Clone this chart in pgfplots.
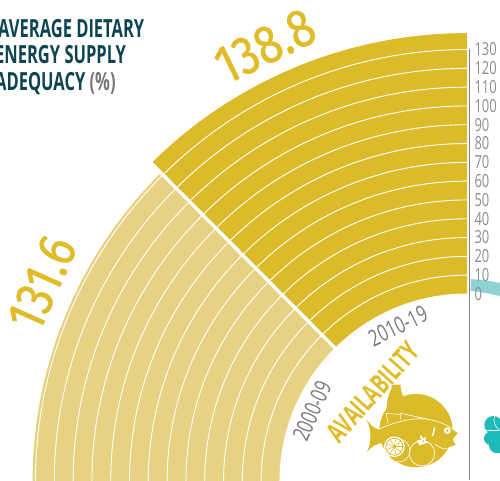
\documentclass[border=0pt]{standalone}
\usepackage{pgfplots}
\pgfplotsset{compat=1.18}
\usepgfplotslibrary{polar}
\usepackage{fontspec}
\setmainfont{Fira Sans}
\newfontfamily\cond[FakeStretch=0.72]{Open Sans}
\newfontfamily\condb[FakeStretch=0.66]{Open Sans Bold}
\newfontfamily\din[FakeStretch=0.85,FakeBold=0.8]{Fira Sans}
\definecolor{gold}{RGB}{219,187,41}
\definecolor{lightgold}{RGB}{230,210,130}
\definecolor{txtgold}{RGB}{223,188,40}
\definecolor{dteal}{RGB}{13,68,82}
\definecolor{paleteal}{RGB}{140,211,210}
\definecolor{teal2}{RGB}{30,186,186}
\definecolor{lab}{RGB}{140,140,142}
\definecolor{per}{RGB}{120,120,122}

\begin{document}
\begin{tikzpicture}[x=1pt,y=1pt]
\useasboundingbox (0,0) rectangle (500,480);
\clip (0,0) rectangle (500,480);
\begin{polaraxis}[
  at={(467pt,-1pt)}, anchor=south east,
  scale only axis,
  width=896pt,
  xmin=90, xmax=180,
  ymin=-99.5, ymax=138.8,
  y coord trafo/.code={\pgfmathparse{#1+99.5}},
  y coord inv trafo/.code={\pgfmathparse{#1-99.5}},
  ytick={0,10,...,130},
  xtick=\empty,
  ymajorgrids,
  y grid style={white, line width=0.9pt},
  major tick length=0pt,
  axis line style={draw=none},
  yticklabel style={font=\cond\fontsize{18}{18}\selectfont, text=lab, anchor=west, xshift=4pt},
  /pgf/number format/assume math mode=true,
  clip=false,
  axis on top,
]
% 2010-19
\addplot[fill=gold, draw=none] coordinates {
  (90,138.8) (92.5,138.8) (95,138.8) (97.5,138.8) (100,138.8) (102.5,138.8) (105,138.8) (107.5,138.8) (110,138.8)
  (112.5,138.8) (115,138.8) (117.5,138.8) (120,138.8) (122.5,138.8) (125,138.8) (127.5,138.8) (130,138.8) (132.5,138.8) (134.8,138.8)
  (134.8,0) (132.5,0) (130,0) (127.5,0) (125,0) (122.5,0) (120,0) (117.5,0) (115,0) (112.5,0)
  (110,0) (107.5,0) (105,0) (102.5,0) (100,0) (97.5,0) (95,0) (92.5,0) (90,0)
} -- cycle;
% 2000-09
\addplot[fill=lightgold, draw=none] coordinates {
  (134.8,131.6) (137.5,131.6) (140,131.6) (142.5,131.6) (145,131.6) (147.5,131.6) (150,131.6) (152.5,131.6) (155,131.6)
  (157.5,131.6) (160,131.6) (162.5,131.6) (165,131.6) (167.5,131.6) (170,131.6) (172.5,131.6) (175,131.6) (177.5,131.6) (180,131.6)
  (180,0) (177.5,0) (175,0) (172.5,0) (170,0) (167.5,0) (165,0) (162.5,0) (160,0) (157.5,0)
  (155,0) (152.5,0) (150,0) (147.5,0) (145,0) (142.5,0) (140,0) (137.5,0) (134.8,0)
} -- cycle;
% gap between the two periods
\addplot[white, line width=3.4pt] coordinates {(134.8,-2) (134.8,140)};
% next sector, only its edge is in the crop
\addplot[fill=paleteal, draw=none] coordinates {
  (88.9,7.9) (86,7.7) (83,7.5) (79.5,7.3) (79.5,0.4) (83,0.8) (86,1.2) (88.9,1.7)
} -- cycle;
\draw[color=gray, line width=1pt] ([xshift=2pt]axis cs:90,130.5) -- ([xshift=2pt]axis cs:90,-99);
\end{polaraxis}
\node[anchor=base west, text=dteal, font=\condb\fontsize{25}{25}\selectfont, inner sep=0pt] at (-2,442) {AVERAGE DIETARY};
\node[anchor=base west, text=dteal, font=\condb\fontsize{25}{25}\selectfont, inner sep=0pt] at (-5,416) {ENERGY SUPPLY};
\node[anchor=base west, text=dteal, font=\condb\fontsize{25}{25}\selectfont, inner sep=0pt] at (-5,389) {ADEQUACY \textcolor{per}{\condb(\%)}};
\node[rotate=26, text=txtgold, font=\din\fontsize{54}{54}\selectfont, inner sep=0pt] at (265,434) {138.8};
\node[rotate=66, text=txtgold, font=\din\fontsize{54}{54}\selectfont, inner sep=0pt] at (42,197) {131.6};
\node[rotate=26, text=per, font=\cond\fontsize{23}{23}\selectfont, inner sep=0pt] at (398,154) {2010-19};
\node[rotate=66, text=per, font=\cond\fontsize{23}{23}\selectfont, inner sep=0pt] at (312,69) {2000-09};
\node[rotate=48, text=txtgold, font=\condb\fontsize{28}{28}\selectfont, inner sep=0pt] at (373,88) {AVAILABILITY};
% food icon, drawn in the pixels of a 3x crop
\begin{scope}[shift={(360,100)},x=0.3333pt,y=-0.3333pt]
  \fill[gold] (168,152) circle (110);
  \fill[gold] (95,14) -- (122,14) -- (122,24) -- (126,42) -- (138,65) -- (141,100) -- (78,100) -- (82,60) -- (90,35) -- (95,24) -- cycle;
  \fill[gold] (20,120) .. controls (32,135) and (42,145) .. (55,148) .. controls (100,128) and (160,110) .. (205,118)
    .. controls (240,125) and (270,140) .. (293,160) -- (278,178) -- (287,195) .. controls (260,205) and (240,205) .. (225,195)
    -- (60,190) .. controls (40,195) and (30,205) .. (20,218) .. controls (35,190) and (35,150) .. (20,120) -- cycle;
  \draw[white, line width=0.6pt] (55,148) .. controls (100,128) and (160,110) .. (205,118) .. controls (240,125) and (262,135) .. (278,148);
  \draw[white, line width=0.6pt] (122,118) -- (122,100) -- (205,118);
  \draw[white, line width=0.6pt] (85,130) -- (78,100) -- (122,104);
  \draw[white, line width=0.6pt] (225,192) .. controls (240,205) and (255,210) .. (262,205);
  \draw[white, line width=1.4pt] (224,142) -- (218,168);
  \fill[white] (262,152) circle (10);
  \fill[gold] (262,152) circle (4);
  % lemon
  \fill[gold, draw=white, line width=0.6pt] (116,212) circle (34);
  \fill[white] (103,200) circle (31);
  \fill[gold] (103,200) circle (27);
  \fill[white] (103,200) circle (24);
  \foreach \a in {0,40,...,320} \draw[gold, line width=0.6pt] (103,200) -- ++(\a:25);
  % tomato
  \fill[gold, draw=white, line width=0.7pt] (186,220) circle (38);
  \fill[white] (171,182) -- (180,178) -- (182,164) -- (190,176) -- (198,170) -- (196,182) -- (205,188) -- (190,192) -- (178,196) -- cycle;
  \fill[gold] (181,178) circle (3);
  \fill[gold] (190,184) circle (3);
  % other sector's icon, mostly out of the crop
  \fill[teal2] (400,135) circle (27);
  \fill[teal2] (425,150) circle (32);
  \fill[teal2] (392,175) circle (20);
  \fill[teal2] (412,195) circle (25);
  \fill[teal2] (430,180) circle (30);
  \draw[white, line width=0.6pt] (404,108) .. controls (398,125) and (405,140) .. (418,150);
  \draw[white, line width=0.6pt] (380,150) -- (418,150);
\end{scope}
\end{tikzpicture}
\end{document}
